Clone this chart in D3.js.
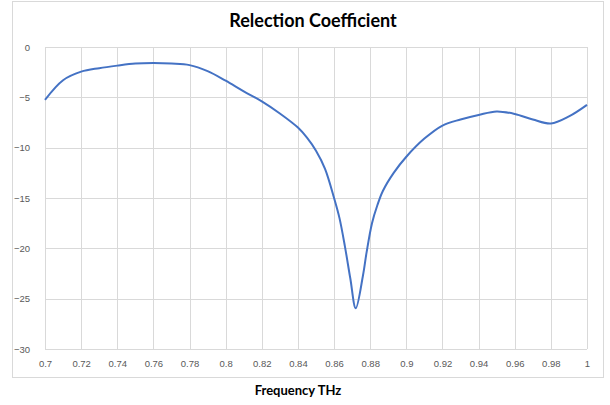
<!DOCTYPE html>
<html>
<head>
<meta charset="utf-8">
<script src="https://cdn.jsdelivr.net/npm/d3@7"></script>
<style>
  body { margin: 0; background: #fff; }
  svg { font-family: Lato, "Open Sans", sans-serif; }
  .grid line { stroke: #d9d9d9; stroke-width: 1; }
  .axis text { fill: #595959; font-size: 9.5px; }
  .axis path, .axis line { display: none; }
</style>
</head>
<body>
<div id="chart"></div>
<script>
// frequency (THz) and reflection coefficient (dB)
var freq = [0.70, 0.71, 0.72, 0.73, 0.74, 0.75, 0.76, 0.77, 0.78, 0.79, 0.80, 0.81, 0.82, 0.83, 0.84,
            0.845, 0.85, 0.855, 0.86, 0.863, 0.866, 0.869, 0.872, 0.876, 0.878, 0.881, 0.884, 0.887,
            0.893, 0.90, 0.91, 0.92, 0.93, 0.94, 0.95, 0.96, 0.97, 0.98, 0.99, 1.00];
var s11 = [-5.25, -3.3, -2.45, -2.1, -1.85, -1.65, -1.6, -1.65, -1.8, -2.4, -3.35, -4.4, -5.4, -6.6, -8.0,
           -9.0, -10.3, -12.1, -15.0, -17.0, -19.8, -23.0, -25.95, -22.7, -20.4, -17.5, -15.7, -14.3,
           -12.5, -10.9, -9.1, -7.8, -7.2, -6.75, -6.4, -6.65, -7.2, -7.6, -6.9, -5.75];
var xTicks = [0.7, 0.72, 0.74, 0.76, 0.78, 0.8, 0.82, 0.84, 0.86, 0.88, 0.9, 0.92, 0.94, 0.96, 0.98, 1];
var yTicks = [0, -5, -10, -15, -20, -25, -30];

var data = freq.map(function(f, i) { return {f: f, v: s11[i]}; });

var svg = d3.select("#chart").append("svg").attr("width", 610).attr("height", 405),
    plot = {left: 45, right: 587, top: 47, bottom: 349};

// outer chart border
svg.append("rect")
    .attr("x", 12.5).attr("y", 1.5)
    .attr("width", 591).attr("height", 376)
    .attr("fill", "none").attr("stroke", "#d9d9d9");

var x = d3.scaleLinear().domain([0.7, 1]).range([plot.left, plot.right]);
var y = d3.scaleLinear().domain([-30, 0]).range([plot.bottom, plot.top]);

var grid = svg.append("g").attr("class", "grid");
grid.selectAll(".v").data(xTicks).enter().append("line")
    .attr("x1", function(d) { return Math.round(x(d)) + 0.5; })
    .attr("x2", function(d) { return Math.round(x(d)) + 0.5; })
    .attr("y1", plot.top).attr("y2", plot.bottom);
grid.selectAll(".h").data(yTicks).enter().append("line")
    .attr("y1", function(d) { return Math.round(y(d)) + 0.5; })
    .attr("y2", function(d) { return Math.round(y(d)) + 0.5; })
    .attr("x1", plot.left).attr("x2", plot.right);

svg.append("g")
    .attr("class", "axis")
    .attr("transform", "translate(0," + (plot.bottom + 8) + ")")
    .call(d3.axisBottom(x).tickValues(xTicks).tickSize(0).tickFormat(function(d) { return d3.format("~g")(d); }));

svg.append("g")
    .attr("class", "axis")
    .attr("transform", "translate(" + (plot.left - 12) + ",0)")
    .call(d3.axisLeft(y).tickValues(yTicks).tickSize(0).tickFormat(d3.format("d")));

var line = d3.line()
    .x(function(d) { return x(d.f); })
    .y(function(d) { return y(d.v); })
    .curve(d3.curveCatmullRom.alpha(0.5));

svg.append("path")
    .datum(data)
    .attr("fill", "none")
    .attr("stroke", "#4472c4")
    .attr("stroke-width", 2)
    .attr("d", line);

svg.append("text")
    .attr("x", 313).attr("y", 27)
    .attr("text-anchor", "middle")
    .style("font-size", "18px").style("font-weight", "bold").attr("fill", "#000")
    .text("Relection Coefficient");

svg.append("text")
    .attr("x", 298).attr("y", 395)
    .attr("text-anchor", "middle")
    .style("font-size", "13px").style("font-weight", "bold").attr("fill", "#000")
    .text("Frequency THz");
</script>
</body>
</html>
